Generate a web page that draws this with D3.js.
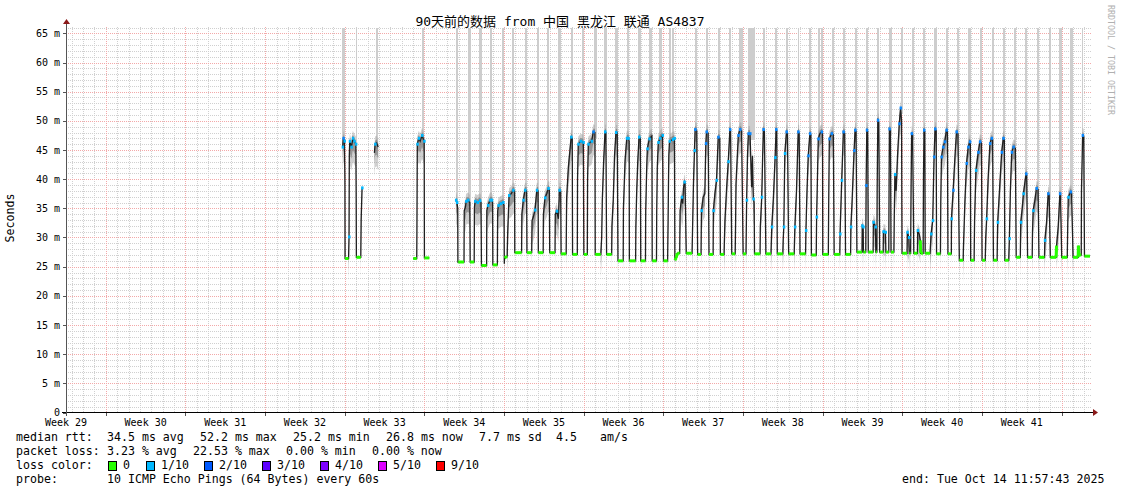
<!DOCTYPE html>
<html><head><meta charset="utf-8">
<script src="https://cdn.jsdelivr.net/npm/d3@7"></script>
<style>
body{margin:0;background:#fff}
svg{display:block}
text{font-family:"DejaVu Sans Mono","Noto Sans CJK SC",monospace;fill:#000}
</style></head><body>
<svg id="c" width="1121" height="494"></svg>
<script>
// ---------------- data ----------------
const title = "90天前的数据 from 中国 黑龙江 联通 AS4837";
const rangeStart = "2025-07-16T11:57:43Z";
const rangeEnd = "2025-10-14T11:57:43Z";
const yMax = 66;
const yTickValues = [0,5,10,15,20,25,30,35,40,45,50,55,60,65];
const yTickLabels = ["0  ","5 m","10 m","15 m","20 m","25 m","30 m","35 m","40 m","45 m","50 m","55 m","60 m","65 m"];
const weekLabels = ["Week 29","Week 30","Week 31","Week 32","Week 33","Week 34","Week 35","Week 36","Week 37","Week 38","Week 39","Week 40","Week 41"];
const weekLabelDates = ["2025-07-16T12:00Z","2025-07-23T12:00Z","2025-07-30T12:00Z","2025-08-06T12:00Z","2025-08-13T12:00Z","2025-08-20T12:00Z","2025-08-27T12:00Z","2025-09-03T12:00Z","2025-09-10T12:00Z","2025-09-17T12:00Z","2025-09-24T12:00Z","2025-10-01T12:00Z","2025-10-08T12:00Z"];
const lossColors = ["#26ff00","#00b8ff","#0059ff","#5e00ff","#7e00ff","#dd00ff","#ff0000"];
const lossLabels = ["0","1/10","2/10","3/10","4/10","5/10","9/10"];

// median rtt per day: [hour of day, ms, loss class (optional)]
const dayDates = [
 "2025-08-09","2025-08-10","2025-08-11","2025-08-12","2025-08-16","2025-08-17",
 "2025-08-19","2025-08-20","2025-08-21","2025-08-22","2025-08-23","2025-08-24","2025-08-25",
 "2025-08-26","2025-08-27","2025-08-28","2025-08-29","2025-08-30","2025-08-31",
 "2025-09-01","2025-09-02","2025-09-03","2025-09-04","2025-09-05","2025-09-06","2025-09-07",
 "2025-09-08","2025-09-09","2025-09-10","2025-09-11","2025-09-12","2025-09-13","2025-09-14",
 "2025-09-15","2025-09-16","2025-09-17","2025-09-18","2025-09-19","2025-09-20","2025-09-21",
 "2025-09-22","2025-09-23","2025-09-24","2025-09-25","2025-09-26","2025-09-27","2025-09-28",
 "2025-09-29","2025-09-30","2025-10-01","2025-10-02","2025-10-03","2025-10-04","2025-10-05",
 "2025-10-06","2025-10-07","2025-10-08","2025-10-09","2025-10-10","2025-10-11","2025-10-12",
 "2025-10-13","2025-10-14"];
const dayProfiles = [
 [[19.5,45.5,1],[21,47,2],[23.3,46.5,1]],
 [[0.3,40],[0.6,26.4,0],[8,26.4,0],[9,30.1,1],[9.6,44],[10.5,46.5,1],[14,45.5,1],[17,47,1],[20,46.5,1],[23.4,46,1]],
 [[0,38],[0.5,26.6,0],[9.8,26.6,0],[10.5,33],[12.5,38.5,1]],
 [[14.5,44.5],[16,46,1],[19,46.2],[22.5,45.5]],
 [[0.5,26.4,0],[7.8,26.4,0],[8.2,31],[9,46,1],[12,47,1],[15,46.5],[19,47.5,1],[23.5,46.5,1]],
 [[0,26.5,0],[10.3,26.5,0]],
 [[18.5,36.4,1],[20.5,36,1],[22.3,35],[22.6,25.8,0]],
 [[0,25.8,0],[11.5,25.8,0],[12,34.6],[14.5,35.2],[16,36.2,1],[20,36.4,1],[23.8,36]],
 [[0.5,25.8,0],[9,25.8,0],[9.5,35.2],[11,36.2,1],[16,36,1],[21,36.3,1],[23.4,36]],
 [[0.3,25.2,0],[11.2,25.2,0],[11.6,34.6],[14,35.5,1],[18.5,36.4,1],[22,36.4,1],[23.9,36]],
 [[0.3,25.3,0],[9.9,25.3,0],[10.5,34.5],[12,35.5,1],[17,35.8,1],[22,36,1],[23.9,35.5]],
 [[0.5,25.5],[1,26.5,0],[6.5,26.8,0],[7.8,31.2],[10.5,37.2,1],[15,37.5],[19,38.1,1],[22.3,38],[22.6,27.4,0]],
 [[0,27.4,0],[13,27.4,0],[13.5,34],[16.6,36.4,1],[20.2,38.1,1],[23.6,38]],
 [[0.3,27.4,0],[10.3,27.4,0],[11,32.9],[13.7,33.5],[17.3,34.7,1],[21,38.1,1],[23.8,38]],
 [[0.3,27.4,0],[10.5,27.4,0],[11,34],[14.3,36.8,1],[18,37.5],[21.3,38.4,1],[23.5,38.2]],
 [[0.3,27.4,0],[11.5,27.4,0],[12,34],[15.2,34.5,1],[18.6,33.2],[20.7,38.1,1],[23.5,38]],
 [[0.3,27.2,0],[11,27.2,0],[12,36.8],[15.6,42],[19,45],[21.5,47.2,1],[23.8,47]],
 [[0.5,27.1,0],[10.5,27.1,0],[11,40],[12.5,46,1],[18,46.5,1],[23.2,46.3,1]],
 [[0.3,27.1,0],[7.6,27.1,0],[8.2,40],[9.7,46,1],[16.8,46.5,1],[20.2,48.1,2],[23.7,48]],
 [[0.3,27.1,0],[12,27.1,0],[13.9,30],[15.2,36.4],[18,43],[20.9,48.1,1],[22.8,48]],
 [[0.3,27.1,0],[11,27.1,0],[11.5,32],[14.3,36.4],[17,44],[20,48,1],[22.7,48]],
 [[0.3,26,0],[11.3,26,0],[11.8,35],[15.2,43.2],[18.8,47,1],[22.2,47,1],[23.9,46.5]],
 [[0.3,26,0],[13.5,26,0],[14,31.9],[15.8,38],[18,43],[20.7,47.2,1],[23.5,47]],
 [[0.3,26,0],[10.3,26,0],[10.8,34.6],[12.9,42],[14.2,45.2,1],[18.4,46.9,1],[23.9,47.4]],
 [[0.5,26,0],[9.5,26,0],[10,34.2],[11.2,42],[13.3,46.3,1],[17,47,1],[22.3,47.5,1]],
 [[0.3,26,0],[9,26,0],[10,33],[11.5,44],[13,46.5,1],[20,46.8,1],[23.4,47,1]],
 [[0.3,26.1,0],[3,26.5,0],[5.6,27.3,0],[10.5,27.3,0],[11.3,34.6],[14.8,36.9,1],[16.9,35.8],[18.3,38.4],[20.4,39.5,1],[21.8,39.3]],
 [[0.3,27.3,0],[12.5,27.3,0],[13.4,30.6],[15.5,39.2],[17.6,44.9,1],[19,48.5,2],[22.5,48.3]],
 [[0.3,27.1,0],[7.5,27.1,0],[8.4,34.6,1],[12,36.9],[15.5,37.5],[17.6,46.1,2],[19,48.1,2],[22.5,47.9]],
 [[0.3,27.1,0],[9,27.1,0],[9.5,34.6,1],[12.7,37.5],[16.2,39.8,1],[19.7,47.2,2],[23,47]],
 [[0.3,27.1,0],[8,27.1,0],[9.9,32.9],[13.4,38.4],[16.9,43,1],[20.4,48.5,2],[21.8,48.3]],
 [[0.3,27.2,0],[7.5,27.2,0],[8.5,33],[9.2,39.2],[14.1,47.5,2],[17.6,48.5,2],[21,48.3]],
 [[0.3,27.2,0],[6.3,27.2,0],[7.7,36.4,1],[9.5,44],[11.3,47.8,2],[14.8,47.8,2],[18.3,38.6],[20,44],[21.8,36.6,1],[23.5,36]],
 [[0.3,27.2,0],[12,27.2,0],[12.5,31.8],[15.5,36.9,1],[17.5,44],[19,48.5,2],[21.1,48.3]],
 [[0.3,27.2,0],[11,27.2,0],[12.7,31.8,1],[16.2,36.9],[19.7,43.7,1],[21.8,48.5,2],[23.2,48.3]],
 [[0.3,27.2,0],[12,27.2,0],[12.7,29.5],[14.1,31.8,1],[16.2,44.4,1],[19.7,48.1,2],[21.8,47.9]],
 [[0.3,27.2,0],[12,27.2,0],[13.4,31.8,1],[16.9,38.1],[20.4,48.1,2],[22.5,47.9]],
 [[0.3,27.2,0],[12,27.2,0],[12.7,31.2,1],[15,38],[17.6,44,2],[21.1,47.8,2],[23.2,47.6]],
 [[0.3,27,0],[10.5,27,0],[11.3,33.5,1],[14.8,46.9,2],[18.3,47.8],[21.8,48.1,2],[23.7,47.9]],
 [[0.3,27.1,0],[12,27.1,0],[12.7,35],[14.1,46.9,2],[19,47.8,2],[22.5,47.6]],
 [[0.3,27.1,0],[12.2,27.1,0],[12.7,30.6,1],[16.2,39.8,1],[19.7,48.1,2],[22.5,47.9]],
 [[0.3,27.1,0],[11,27.1,0],[11.5,31.8,1],[14,36],[18.3,44.9,2],[20.4,48.4,2],[22.5,48.2]],
 [[0.3,27.5,0],[11,27.5,0],[11.5,32,1],[13.5,31.8,1],[14,27.5,0],[19,27.5,0],[19.7,38.9,2],[21.1,48.4,2],[23,48.2]],
 [[0.3,27.5,0],[10.5,27.5,0],[11,32.6,1],[13,32.4],[15.5,31.8,1],[16.2,27.5,0],[18.5,27.5,0],[19,38],[20.4,50.1,2],[22.5,49.8]],
 [[0.3,27.5,0],[7.7,27.5,0],[8.2,31,1],[12.5,30.9,1],[13.4,27.5,0],[19.5,27.5,0],[20.2,40],[20.8,48.6,2],[23,48.4]],
 [[0.3,27.5,0],[6.3,27.5,0],[7,33],[8.4,40.8,1],[11,38],[14,44],[17.6,49.5,2],[20.4,52.2,2],[22.5,50],[23,36.3],[23.5,27.3,0]],
 [[0.3,27.3,0],[10,27.3,0],[10.6,30.9,1],[14,30,1],[14.8,27.3,0],[17.6,27.3,0],[18.5,38],[19.7,47.8,2],[21.8,47.6]],
 [[0.3,27.3,0],[8,27.3,0],[8.4,31.2,1],[12,30.5],[14,29.5,0],[14.8,27.3,0],[20,27.3,0],[20.7,40],[21.8,48.4,2],[23.5,48.2]],
 [[0.3,27.3,0],[10.6,27.3,0],[12.7,30.6,1],[16.2,32.9,1],[17.5,38],[19,43.8,2],[21.1,48.6,2],[23.5,48.3]],
 [[0.3,27.2,0],[8.5,27.2,0],[9.2,36],[10.6,43.8,2],[14.1,45.5,2],[17.6,46.4,2],[21.1,48.4,2],[23.2,48.2]],
 [[0.3,27.2,0],[7.5,27.2,0],[7.7,33.2,1],[11.3,38.1,2],[14.5,43],[18.3,48.1,2],[21.5,47.8]],
 [[0.3,26.1,0],[8.4,26.1,0],[9,28.3],[12,36],[15.5,42.7,2],[19,45.5,2],[22.5,46.4,2],[23.6,46]],
 [[0.3,26.1,0],[7.5,26.1,0],[8.5,33],[11.3,41.5,1],[16.2,44.6,2],[19.7,46.4,2],[23,46.2]],
 [[0.3,26.1,0],[7,26.1,0],[8,30],[9.9,33.2,1],[13,40],[16.9,46.1,2],[20.4,47,2],[22.5,46.8]],
 [[0.3,26.1,0],[8,26.1,0],[9.2,32.6,1],[13,38],[17.6,44.6,2],[21.1,47,2],[23.2,46.8]],
 [[0.3,26.1,0],[8.5,26.1,0],[9.9,29.8,1],[12,38],[14.8,44.6,2],[18.3,45.5,2],[22.5,45.3]],
 [[0.3,26.6,0],[9,26.6,0],[9.9,32.6,1],[13,35],[15.5,37.5,1],[21.1,40.9,2],[22.5,40.7]],
 [[0.3,26.6,0],[10,26.6,0],[10.7,31],[12,34.6,1],[16,36.5],[19,38.4,2],[22.5,38.2]],
 [[0.3,26.6,0],[12,26.6,0],[12.7,29.5,1],[16.2,32.4],[19.7,37.5,2],[21.8,37.3]],
 [[0.3,26.6,0],[12.5,26.6,0],[13.4,28.6,0],[16.9,31.8],[20.4,37.5,2],[21.8,37.3]],
 [[0.3,26.6,0],[12,26.6,0],[13,32],[14.1,36.9,1],[19,37.8,2],[21.1,37.6]],
 [[0.3,26.6,0],[11,26.6,0],[11.5,28.6,0],[12.5,27,0],[17.5,27,0],[18,38],[20.4,47.5,2],[22.8,47.3]],
 [[0.3,26.8,0],[11.9,26.8,0]]
];
// light grey smoke columns reaching the top of the graph: [date, from hour, to hour]
const smokeBars = [
 ["2025-08-09",18.3,24.6],["2025-08-10",22.8,25.9],["2025-08-12",17.9,21.5],["2025-08-16",18.3,23.2],
 ["2025-08-19",18.8,23],["2025-08-20",20.9,25.7],["2025-08-21",19.8,24.8],["2025-08-22",18.3,22.5],
 ["2025-08-23",19,24],["2025-08-24",16,21],["2025-08-25",20.2,25],["2025-08-26",20.9,25.7],
 ["2025-08-27",18.2,23.7],["2025-08-28",18.6,23.6],["2025-08-29",20.9,26.3],["2025-08-30",19.8,24.7],
 ["2025-08-31",21.7,27.4],["2025-09-01",18.8,24.5],["2025-09-02",18.1,23.8],["2025-09-03",18.8,23.6],
 ["2025-09-04",19.4,24.5],["2025-09-05",17.7,23.4],["2025-09-06",15.6,20.7],["2025-09-07",12.5,15],["2025-09-07",18,23],
 ["2025-09-09",19.5,22.5],["2025-09-10",18,21.5],["2025-09-11",18.5,22.5],["2025-09-12",19.5,22.5],
 ["2025-09-13",15,24.5],["2025-09-14",11,25],["2025-09-15",18.5,22],["2025-09-16",20.5,23.5],
 ["2025-09-17",19,22.5],["2025-09-18",19.5,23],["2025-09-19",20,23.5],["2025-09-20",15,17],["2025-09-20",20,24],
 ["2025-09-21",19,23],["2025-09-22",19.5,23],["2025-09-23",20,24],
 ["2025-09-24",18.5,23.7],["2025-09-25",18,23.5],["2025-09-26",19.8,25.5],["2025-09-27",20.8,25],
 ["2025-09-28",19.8,24.7],["2025-09-29",19.2,24],["2025-09-30",19.6,24.5],["2025-10-01",20,24.9],
 ["2025-10-02",18.6,24],["2025-10-03",19.4,24.2],["2025-10-04",19.8,24.6],["2025-10-05",20.6,25.5],
 ["2025-10-06",19.6,24.5],["2025-10-07",19.8,24],["2025-10-08",18.8,23.7],["2025-10-09",19.4,24.9],
 ["2025-10-10",20.9,25.1],["2025-10-11",19,24],["2025-10-12",17.5,23.2],["2025-10-13",18.4,21.7]
];
const statsRows = [
 ["median rtt:", [["34.5 ms avg",107],["52.2 ms max",200],["25.2 ms min",293],["26.8 ms now",386],["7.7 ms sd",479],["4.5",556],["am/s",600]]],
 ["packet loss:", [["3.23 % avg",107],["22.53 % max",193],["0.00 % min",286],["0.00 % now",372]]],
];
const probeText = "10 ICMP Echo Pings (64 Bytes) every 60s";
const endText = "end: Tue Oct 14 11:57:43 2025";
const watermark = "RRDTOOL / TOBI OETIKER";

// ---------------- drawing ----------------
const svg = d3.select("#c");
svg.append("rect").attr("width",1121).attr("height",494).attr("fill","#fff");
const X0 = 66, X1 = 1090, YT = 27.5, YB = 412.5;
const x = d3.scaleUtc().domain([new Date(rangeStart), new Date(rangeEnd)]).range([X0, X1]);
const y = d3.scaleLinear().domain([0, yMax]).range([YB, YT]);
const dayMs = d => Date.parse(d + "T00:00:00Z");
const HOUR = 3600e3;

// grid
const grid = svg.append("g").attr("shape-rendering","crispEdges").attr("stroke-dasharray","1,1").attr("stroke-width",1);
const minorY = d3.range(1, yMax + 1).filter(v => v % 5 !== 0);
grid.selectAll(".hy").data(minorY).join("line")
  .attr("x1",X0).attr("x2",X1+2).attr("y1",d=>Math.round(y(d))+0.5).attr("y2",d=>Math.round(y(d))+0.5).attr("stroke","#d0d0d0");
const days = d3.utcDay.range(x.domain()[0], x.domain()[1]);
grid.selectAll(".vx").data(days.filter(d=>d.getUTCDay()!==0)).join("line")
  .attr("x1",d=>Math.round(x(d))+0.5).attr("x2",d=>Math.round(x(d))+0.5).attr("y1",YT-1).attr("y2",YB).attr("stroke","#d0d0d0");
grid.selectAll(".my").data(yTickValues.filter(v=>v>0)).join("line")
  .attr("x1",X0).attr("x2",X1+2).attr("y1",d=>Math.round(y(d))+0.5).attr("y2",d=>Math.round(y(d))+0.5).attr("stroke","#f3a9a9");
const weeks = d3.utcSunday.range(x.domain()[0], x.domain()[1]);
grid.selectAll(".mx").data(weeks).join("line")
  .attr("x1",d=>Math.round(x(d))+0.5).attr("x2",d=>Math.round(x(d))+0.5).attr("y1",YT-1).attr("y2",YB).attr("stroke","#f3a9a9");

// build points
const runs = [];
let cur = [];
dayDates.forEach((dd, i) => {
  const base = dayMs(dd);
  dayProfiles[i].forEach(p => {
    const pt = {t: new Date(base + p[0]*HOUR), v: p[1], c: p.length > 2 ? p[2] : -1};
    if (cur.length && (pt.t - cur[cur.length-1].t) > 18*HOUR) { runs.push(cur); cur = []; }
    cur.push(pt);
  });
});
if (cur.length) runs.push(cur);

// light grey smoke columns
const peakOfDay = {};
dayDates.forEach((dd,i)=>{ peakOfDay[dd] = d3.max(dayProfiles[i], p=>p[1]); });
svg.append("g").attr("shape-rendering","crispEdges").selectAll("rect").data(smokeBars).join("rect")
  .attr("x", d => x(new Date(dayMs(d[0]) + d[1]*HOUR)))
  .attr("width", d => Math.max(1.5, x(new Date(dayMs(d[0]) + d[2]*HOUR)) - x(new Date(dayMs(d[0]) + d[1]*HOUR))))
  .attr("y", YT)
  .attr("height", d => y((peakOfDay[d[0]]||45) - 1) - YT)
  .attr("fill", "#cdcdcd");

// smoke around the upper parts
const highRuns = [];
runs.forEach(r => {
  let hr = [];
  for (let i = 0; i < r.length; i++) {
    const a = r[i], b = r[i+1];
    const low = (a.c === 0) && (!b || b.c === 0);
    if (!low) { if (!hr.length) hr.push(a); if (b) hr.push(b); }
    else if (hr.length) { highRuns.push(hr); hr = []; }
  }
  if (hr.length) highRuns.push(hr);
});
const smokeOuter = d3.area().x(d=>x(d.t)).y0(d=>y(d.v-4)).y1(d=>y(d.v+1.3));
const smokeInner = d3.area().x(d=>x(d.t)).y0(d=>y(d.v-2)).y1(d=>y(d.v+0.6));
const sm = svg.append("g");
sm.selectAll(".so").data(highRuns).join("path").attr("d", smokeOuter).attr("fill","#a0a0a0").attr("fill-opacity",0.5);
sm.selectAll(".si").data(highRuns).join("path").attr("d", smokeInner).attr("fill","#606060").attr("fill-opacity",0.5);

// median line
const line = d3.line().x(d=>x(d.t)).y(d=>y(d.v));
svg.append("g").selectAll("path").data(runs).join("path")
  .attr("d", line).attr("fill","none").attr("stroke","#202020").attr("stroke-width",1.3);

// loss colour segments (plateaus with 0 loss)
const greens = [];
runs.forEach(r => { for (let i=0;i<r.length-1;i++) if (r[i].c===0 && r[i+1].c===0) greens.push([r[i], r[i+1]]); });
svg.append("g").selectAll("path").data(greens).join("path")
  .attr("d", line).attr("fill","none").attr("stroke",lossColors[0]).attr("stroke-width",3);
const dots = [];
runs.forEach(r => r.forEach(p => { if (p.c > 0) dots.push(p); }));
svg.append("g").selectAll("rect").data(dots).join("rect")
  .attr("x", d=>x(d.t)-1).attr("y", d=>y(d.v)-1.5).attr("width",2.5).attr("height",3)
  .attr("fill", d=>d.c===2 ? "#0a88ff" : lossColors[d.c]);

// axes
const ax = svg.append("g").attr("shape-rendering","crispEdges");
ax.append("line").attr("x1",62).attr("x2",1094).attr("y1",YB).attr("y2",YB).attr("stroke","#000");
ax.append("line").attr("x1",X0+0.5).attr("x2",X0+0.5).attr("y1",416).attr("y2",23).attr("stroke","#555");
svg.append("path").attr("d","M1093,409L1098,412.5L1093,416Z").attr("fill","#8b1a1a");
svg.append("path").attr("d","M63,24L66.5,19L70,24Z").attr("fill","#8b1a1a");
ax.selectAll(".yt").data(yTickValues).join("line")
  .attr("x1",X0-3).attr("x2",X0).attr("y1",d=>Math.round(y(d))+0.5).attr("y2",d=>Math.round(y(d))+0.5).attr("stroke","#555");
ax.selectAll(".xt").data(weeks).join("line")
  .attr("x1",d=>Math.round(x(d))+0.5).attr("x2",d=>Math.round(x(d))+0.5).attr("y1",YB).attr("y2",YB+3).attr("stroke","#555");

// y labels
svg.append("g").attr("xml:space","preserve").selectAll("text").data(yTickValues).join("text")
  .attr("x",60).attr("y",d=>y(d)+3.5).attr("text-anchor","end").attr("font-size","10px")
  .text((d,i)=>yTickLabels[i]);
// week labels
svg.append("g").selectAll("text").data(weekLabels).join("text")
  .attr("x",(d,i)=>x(new Date(weekLabelDates[i]))).attr("y",426).attr("text-anchor","middle").attr("font-size","10px")
  .text(d=>d);
// y title
svg.append("text").attr("transform","translate(14,218) rotate(-90)").attr("text-anchor","middle")
  .attr("font-size","11.6px").text("Seconds");
// title
svg.append("text").attr("x",560).attr("y",26).attr("text-anchor","middle").attr("font-size","13px").text(title);
// watermark
svg.append("text").attr("transform","translate(1108,5) rotate(90)").attr("font-size","8.3px")
  .style("fill","#b0b0b0").text(watermark);

// legend
const lg = svg.append("g").attr("font-size","11.6px").attr("xml:space","preserve");
statsRows.forEach((row, r) => {
  const yy = 441 + r*14;
  lg.append("text").attr("x",16).attr("y",yy).text(row[0]);
  row[1].forEach(it => lg.append("text").attr("x",it[1]).attr("y",yy).text(it[0]));
});
lg.append("text").attr("x",16).attr("y",469).text("loss color:");
const boxX = [108,146,204,262,320,378,436];
lossLabels.forEach((l,i) => {
  lg.append("rect").attr("x",boxX[i]+0.5).attr("y",461.5).attr("width",8).attr("height",9)
    .attr("fill",lossColors[i]).attr("stroke","#000").attr("stroke-width",1);
  lg.append("text").attr("x",boxX[i]+15).attr("y",469).text(l);
});
lg.append("text").attr("x",16).attr("y",483).text("probe:");
lg.append("text").attr("x",107).attr("y",483).text(probeText);
lg.append("text").attr("x",902).attr("y",483).text(endText);
</script>
</body></html>
